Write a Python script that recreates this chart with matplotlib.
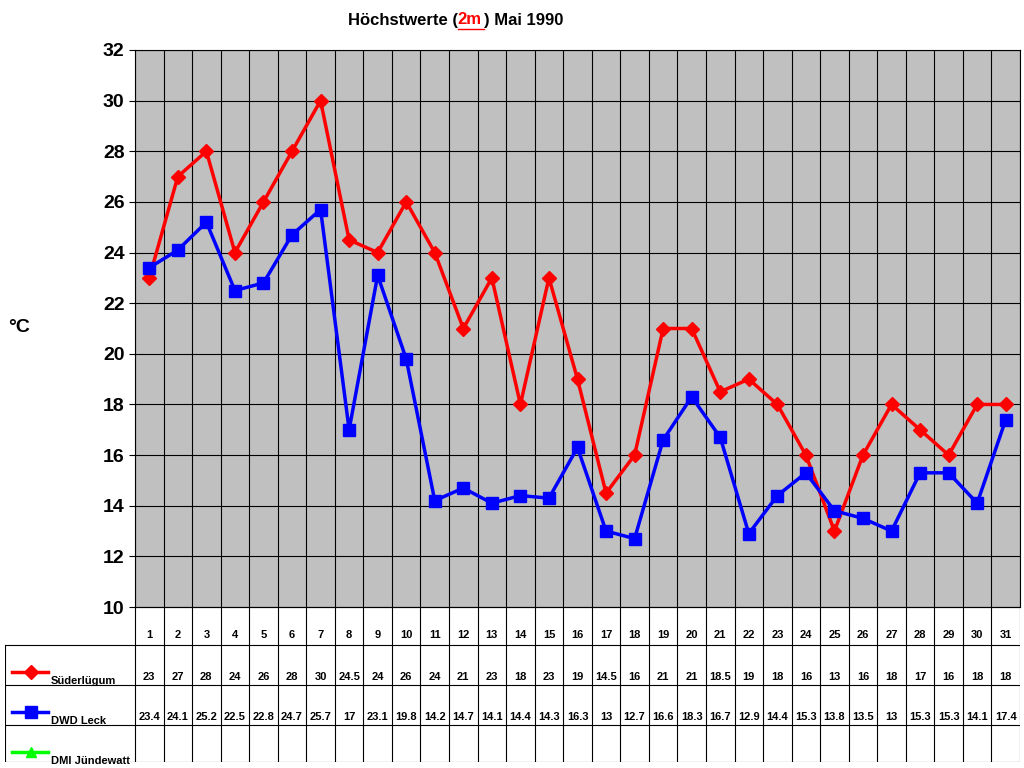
import numpy as np
import matplotlib.pyplot as plt

plt.rcParams['font.family'] = ['Liberation Sans', 'DejaVu Sans']
plt.rcParams['font.weight'] = 'bold'

days = [str(d) for d in range(1, 32)]
suederluegum = [23, 27, 28, 24, 26, 28, 30, 24.5, 24, 26, 24, 21, 23, 18, 23, 19, 14.5, 16,
                21, 21, 18.5, 19, 18, 16, 13, 16, 18, 17, 16, 18, 18]
dwd_leck = [23.4, 24.1, 25.2, 22.5, 22.8, 24.7, 25.7, 17, 23.1, 19.8, 14.2, 14.7, 14.1, 14.4,
            14.3, 16.3, 13, 12.7, 16.6, 18.3, 16.7, 12.9, 14.4, 15.3, 13.8, 13.5, 13, 15.3,
            15.3, 14.1, 17.4]
series = [("Süderlügum", suederluegum, "#ff0000", "D"),
          ("DWD Leck", dwd_leck, "#0000ff", "s"),
          ("DMI Jündewatt", None, "#00ff00", "^")]

W, H = 1024, 768
fig = plt.figure(figsize=(W / 100, H / 100), dpi=100)

def px_axes(x0, y0, x1, y1):
    return fig.add_axes([x0 / W, 1 - y1 / H, (x1 - x0) / W, (y1 - y0) / H])

n = len(days)
xs = np.arange(n) + 0.5

# main plot
ax = px_axes(135, 50, 1020, 607)
ax.set_facecolor("#c0c0c0")
ax.set_xlim(0, n)
ax.set_ylim(10, 32)
ax.set_yticks(range(10, 33, 2))
ax.set_xticks(range(n + 1))
ax.set_xticklabels([])
ax.tick_params(axis="x", length=0)
ax.tick_params(axis="y", labelsize=14, length=4)
ax.grid(True, color="black", linewidth=0.8)
ax.set_axisbelow(True)
for s in ax.spines.values():
    s.set_color("black")
for name, vals, col, mk in series:
    if vals is None:
        continue
    ax.plot(xs, vals, color=col, marker=mk, lw=2.5,
            markersize=9 if mk == "s" else 7)
fig.text(8 / W, 1 - 328 / H, "°C", fontsize=14, fontweight="bold", va="center")

# title
fig.text(0.5 - 0.053, 1 - 20 / H, "Höchstwerte (", fontsize=12, ha="right", va="center")
fig.text(0.5 - 0.053, 1 - 20 / H, "2m", fontsize=12, ha="left", va="center",
         color="red").set_text("2m")
fig.text(0.5 - 0.053 + 0.026, 1 - 20 / H, ") Mai 1990", fontsize=12, ha="left", va="center")
fig.add_artist(plt.Line2D([0.5 - 0.053, 0.5 - 0.027], [1 - 29 / H] * 2, color="red", lw=1))

# table
tab = px_axes(5, 607, 1020, 762)
left = -130 / (885 / n)
tab.set_xlim(left, n)
tab.set_ylim(762, 607)
tab.axis("off")
rows = [607, 645, 685, 725, 762]
lk = dict(color="black", lw=0.8)
for y in rows:
    tab.plot([0 if y == 607 else left, n], [y, y], **lk)
for i in range(n + 1):
    tab.plot([i, i], [607, 762], **lk)
tab.plot([left, left], [645, 762], **lk)
for i, d in enumerate(days):
    tab.text(i + 0.5, 635, d, fontsize=8, ha="center", va="center")
for r, (name, vals, col, mk) in enumerate(series):
    ytxt = rows[r + 1] + 32
    tab.plot([left + 0.25, left + 1.5], [rows[r + 1] + 27] * 2, color=col, lw=2.5)
    tab.plot([left + 0.9], [rows[r + 1] + 27], marker=mk, color=col,
             markersize=8 if mk == "s" else 7)
    tab.text(left + 1.6, ytxt + 4, name, fontsize=8, ha="left", va="center")
    if vals is not None:
        for i, v in enumerate(vals):
            tab.text(i + 0.5, ytxt, f"{v:g}", fontsize=8, ha="center", va="center")

fig.savefig("out.png", dpi=100)
